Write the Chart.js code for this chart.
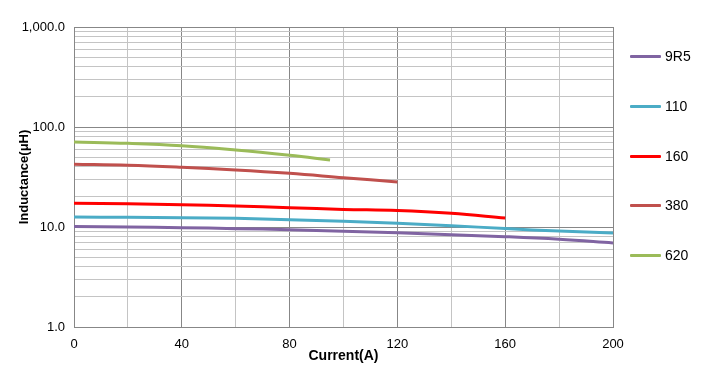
<!DOCTYPE html>
<html>
<head>
<meta charset="utf-8">
<script src="https://cdn.jsdelivr.net/npm/chart.js@4/dist/chart.umd.min.js"></script>
<style>
  html, body { margin: 0; padding: 0; background: #ffffff; }
  #wrap { position: relative; width: 710px; height: 380px; }
  #c { position: absolute; left: 0; top: 0; }
  .lg { position: absolute; left: 630px; height: 20px; font-family: "Liberation Sans", Arial, sans-serif; font-size: 14px; color: #000; }
  .lg span.ln { position: absolute; left: 0; top: 8px; width: 31px; height: 3px; border-radius: 1px; }
  .lg span.tx { position: absolute; left: 35px; top: 1px; white-space: nowrap; }
</style>
</head>
<body>
<div id="wrap">
  <canvas id="c" width="710" height="380"></canvas>
  <div id="legend"></div>
</div>
<script>
// ---- data ----
const seriesNames = ["9R5", "110", "160", "380", "620"];
const seriesColors = ["#8064A2", "#4BACC6", "#FF0000", "#C0504D", "#9BBB59"];

const current9R5 = [0, 20, 40, 60, 80, 100, 120, 140, 160, 180, 200];
const induct9R5  = [10.1, 10.0, 9.85, 9.63, 9.41, 9.06, 8.77, 8.38, 8.0, 7.53, 6.92];

const current110 = [0, 20, 40, 60, 80, 100, 120, 140, 160, 180, 200];
const induct110  = [12.6, 12.5, 12.4, 12.2, 11.8, 11.4, 10.9, 10.3, 9.65, 9.1, 8.7];

const current160 = [0, 20, 40, 60, 80, 100, 120, 140, 160];
const induct160  = [17.3, 17.1, 16.7, 16.2, 15.6, 15.0, 14.6, 13.7, 12.3];

const current380 = [0, 20, 40, 60, 80, 100, 120];
const induct380  = [42.4, 41.4, 39.5, 37.2, 34.4, 31.1, 28.2];

const current620 = [0, 20, 40, 60, 80, 95];
const induct620  = [70.8, 68.7, 65.0, 58.9, 52.1, 46.8];

const xTickStep = 20;
const xLabelEvery = 40;
const yDecades = [1, 10, 100, 1000];

// ---- build ----
const currents = [current9R5, current110, current160, current380, current620];
const inducts  = [induct9R5, induct110, induct160, induct380, induct620];

const datasets = seriesNames.map((name, i) => ({
  label: name,
  data: currents[i].map((x, j) => ({ x: x, y: inducts[i][j] })),
  borderColor: seriesColors[i],
  backgroundColor: seriesColors[i],
  borderWidth: 3,
  pointRadius: 0,
  tension: 0.4,
  fill: false
}));
// draw order: first series on top like Excel? keep natural order

const yTickValues = [];
for (let d = 0; d < yDecades.length - 1; d++) {
  for (let m = 1; m <= 9; m++) yTickValues.push(yDecades[d] * m);
}
yTickValues.push(yDecades[yDecades.length - 1]);
const isDecade = v => yDecades.some(d => Math.abs(v - d) < 1e-9);

const majorGrid = "#878787";
const minorGrid = "#c4c4c4";
const tickFont = { family: "'Liberation Sans', Arial, sans-serif", size: 13 };

new Chart(document.getElementById("c"), {
  type: "line",
  data: { datasets: datasets },
  options: {
    responsive: false,
    animation: false,
    layout: { padding: { left: 0, top: 27, right: 97, bottom: 0 } },
    plugins: { legend: { display: false }, tooltip: { enabled: false } },
    scales: {
      x: {
        type: "linear",
        min: 0, max: 200,
        ticks: {
          stepSize: xTickStep,
          autoSkip: false,
          maxRotation: 0,
          padding: 10,
          color: "#000",
          font: tickFont,
          callback: v => (v % xLabelEvery === 0 ? String(v) : "")
        },
        grid: {
          drawTicks: false,
          color: ctx => (ctx.tick && ctx.tick.value % xLabelEvery === 0 ? majorGrid : minorGrid),
          lineWidth: 1
        },
        border: { color: majorGrid, width: 1 },
        title: {
          display: true,
          text: "Current(A)",
          color: "#000",
          font: { family: "'Liberation Sans', Arial, sans-serif", size: 14, weight: "bold" },
          padding: { top: 0, bottom: 15 }
        },
        afterFit: s => { s.height = 53; }
      },
      y: {
        type: "logarithmic",
        min: 1, max: 1000,
        afterBuildTicks: s => { s.ticks = yTickValues.map(v => ({ value: v })); },
        ticks: {
          autoSkip: false,
          padding: 9,
          color: "#000",
          font: tickFont,
          callback: v => (isDecade(v) ? Number(v).toLocaleString("en-US", { minimumFractionDigits: 1, maximumFractionDigits: 1 }) : "")
        },
        grid: {
          drawTicks: false,
          color: ctx => (ctx.tick && isDecade(ctx.tick.value) ? majorGrid : minorGrid),
          lineWidth: 1
        },
        border: { color: majorGrid, width: 1 },
        title: {
          display: true,
          text: "Inductance(μH)",
          color: "#000",
          font: { family: "'Liberation Sans', Arial, sans-serif", size: 13, weight: "bold" },
          padding: { top: 17, bottom: 0 }
        },
        afterFit: s => { s.width = 74; }
      }
    }
  }
});

// HTML legend built from the series
const legendTops = [57, 107, 157, 206, 256];
const lg = document.getElementById("legend");
seriesNames.forEach((name, i) => {
  const d = document.createElement("div");
  d.className = "lg";
  d.style.top = (legendTops[i] - 10) + "px";
  d.innerHTML = '<span class="ln" style="background:' + seriesColors[i] + '"></span><span class="tx"></span>';
  d.querySelector(".tx").textContent = name;
  lg.appendChild(d);
});
</script>
</body>
</html>
